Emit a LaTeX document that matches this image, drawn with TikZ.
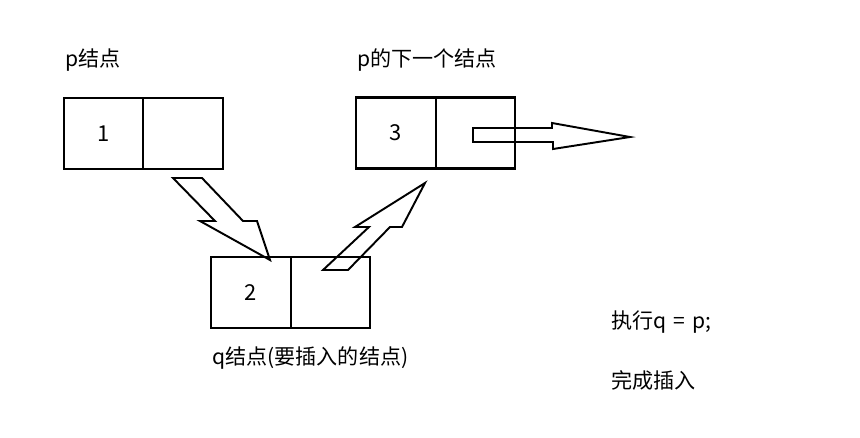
\documentclass[tikz,border=0pt]{standalone}
\usepackage{fontspec}
\setmainfont{Noto Sans CJK SC}
\usetikzlibrary{positioning}

\begin{document}
\begin{tikzpicture}[x=0.02cm,y=-0.02cm,
	cell/.style={draw, line width=1.3pt, minimum width=1.59cm, minimum height=1.42cm, inner sep=0pt, outer sep=0pt, font=\fontsize{12.5}{14}\selectfont},
	lbl/.style={anchor=west, inner sep=0pt, font=\fontsize{12}{14}\selectfont},
	blockarrow/.style={draw, line width=1.1pt, line join=miter}]
		
		\useasboundingbox (0,0) rectangle (860,437);
		
		% p node
		\node[cell] (pdata) at (103.5,133.5) {1};
		\node[cell, right=0pt of pdata] (pnext) {};
		\node[lbl] (plbl) at (65,60) {p结点};
		
		% node after p
		\node[cell] (rdata) at (396,133) {3};
		\node[cell, right=0pt of rdata] (rnext) {};
		\node[lbl] (rlbl) at (357,60) {p的下一个结点};
		
		% q node (to insert)
		\node[cell] (qdata) at (251,292.5) {2};
		\node[cell, right=0pt of qdata] (qnext) {};
		\node[lbl] (qlbl) at (212,358) {q结点(要插入的结点)};
		
		% Notes
		\node[lbl] (step) at (611,322) {执行q\,\,=\,\,p;};
		\node[lbl] (done) at (611,380) {完成插入};
		
		% Arrow p -> q
		\draw[blockarrow] (173,178) -- (202,178) -- (243,221) -- (257,221) -- (270,260)
			-- (200,221) -- (215,221) -- cycle;
		
		% Arrow q -> next
		\draw[blockarrow] (323,270) -- (369,227) -- (355,227) -- (425,183) -- (402,227)
			-- (390,227) -- (348,270) -- cycle;
		
		% Arrow next -> onward
		\draw[blockarrow] (473,128) -- (552,128) -- (552,123) -- (630,137) -- (553,149)
			-- (553,142) -- (473,142) -- cycle;
		
	\end{tikzpicture}
\end{document}
